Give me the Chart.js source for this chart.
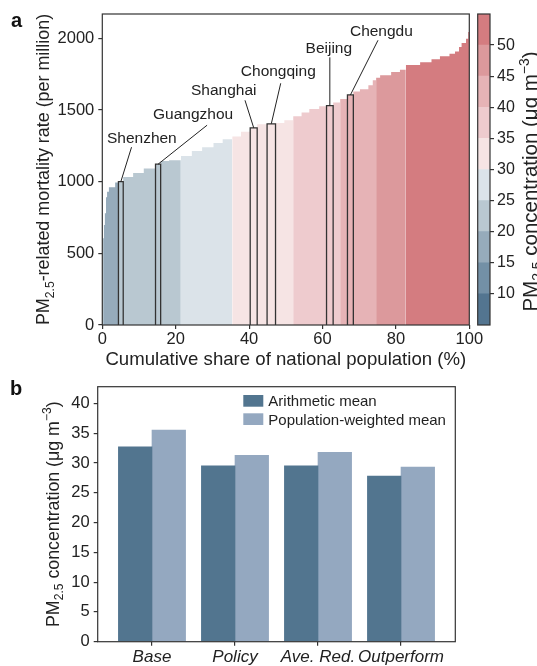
<!DOCTYPE html>
<html>
<head>
<meta charset="utf-8">
<script src="https://cdn.jsdelivr.net/npm/chart.js@4.4.0/dist/chart.umd.min.js"></script>
<style>
  body { margin: 0; width: 537px; height: 666px; overflow: hidden; background: #fff; position: relative; }
  .box { position: absolute; }
</style>
</head>
<body>
<div class="box" style="left:0;top:0;"><canvas id="mortalityChart" width="537" height="370"></canvas></div>
<div class="box" style="left:470px;top:0;"><canvas id="colorbar" width="67" height="345"></canvas></div>
<div class="box" style="left:0;top:370px;"><canvas id="meanChart" width="537" height="310"></canvas></div>
<script>
// ---------- panel a data ----------
// cumulative population share (%) at the right edge of each city, sorted by mortality
const cumShare = [0.4, 0.7, 1.0, 1.3, 1.8, 3.5, 4.4, 5.7, 8.4, 11.3, 14.5, 15.9, 18.2, 21.4,
  24.4, 27.2, 30.3, 32.8, 35.4, 37.8, 40.3, 42.2, 44.9, 47.2, 49.6, 52.0, 54.3, 56.4, 59.1,
  61.1, 62.9, 64.8, 66.8, 68.4, 70.2, 72.5, 73.7, 74.6, 75.7, 78.7, 81.1, 82.7, 86.6, 89.7,
  92.0, 94.6, 96.1, 97.2, 97.9, 99.1, 99.7, 100];
// PM2.5-related mortality rate (per million)
const mortality = [606, 697, 780, 892, 930, 962, 994, 1000, 1033, 1061, 1092, 1122, 1145, 1150,
  1180, 1214, 1240, 1270, 1296, 1315, 1348, 1376, 1401, 1404, 1410, 1429, 1456, 1482, 1508,
  1526, 1530, 1553, 1577, 1605, 1630, 1645, 1672, 1707, 1726, 1742, 1765, 1781, 1815, 1833,
  1854, 1875, 1893, 1909, 1940, 1967, 1998, 2044];
const pm25 = [12.5, 17.5, 17.5, 17.5, 17.5, 17.5, 17.5, 22.5, 22.5, 22.5, 22.5, 22.5, 22.5, 22.5,
  27.5, 27.5, 27.5, 27.5, 27.5, 32.5, 32.5, 32.5, 32.5, 32.5, 32.5, 32.5, 37.5, 37.5, 37.5,
  37.5, 37.5, 37.5, 42.5, 42.5, 42.5, 42.5, 42.5, 42.5, 47.5, 47.5, 47.5, 47.5, 52.5, 52.5,
  52.5, 52.5, 52.5, 52.5, 52.5, 52.5, 52.5, 52.5];

const highlightNames = ['Shenzhen', 'Guangzhou', 'Shanghai', 'Chongqing', 'Beijing', 'Chengdu'];
const highlightIdx = [7, 11, 21, 23, 30, 33];

const shareTicks = [0, 20, 40, 60, 80, 100];
const mortalityTicks = [0, 500, 1000, 1500, 2000];

// colour bar
const pmLevels = [5, 10, 15, 20, 25, 30, 35, 40, 45, 50, 55];
const cbTicks = [10, 15, 20, 25, 30, 35, 40, 45, 50];
const bandColors = ['#537590', '#7390a6', '#96abbb', '#b9c8d1', '#dbe3e9',
  '#f6e4e4', '#eecbce', '#e6b3b6', '#dc999c', '#d47c80'];

// ---------- panel b data ----------
const scenarios = ['Base', 'Policy', 'Ave. Red.', 'Outperform'];
const arithMean = [32.7, 29.5, 29.5, 27.8];
const popWeightedMean = [35.5, 31.3, 31.8, 29.3];
const concTicks = [0, 5, 10, 15, 20, 25, 30, 35, 40];

// ---------- helpers ----------
const FONT = '"Liberation Sans", Arial, sans-serif';
const INK = '#222';
const AXIS = '#333';
Chart.defaults.font.family = FONT;
Chart.defaults.color = INK;

function colorFor(v) {
  let i = Math.floor((v - pmLevels[0]) / 5);
  i = Math.max(0, Math.min(bandColors.length - 1, i));
  return bandColors[i];
}

// draws text with sub/superscripts, centred on (cx, cy)
function drawRich(ctx, parts, cx, cy, size, angle) {
  ctx.save();
  ctx.translate(cx, cy);
  ctx.rotate(angle);
  let total = 0;
  parts.forEach(p => {
    ctx.font = (size * (p.s || 1)) + 'px ' + FONT;
    total += ctx.measureText(p.t).width;
  });
  let x = -total / 2;
  ctx.fillStyle = INK;
  ctx.textBaseline = 'alphabetic';
  ctx.textAlign = 'left';
  parts.forEach(p => {
    ctx.font = (size * (p.s || 1)) + 'px ' + FONT;
    ctx.fillText(p.t, x, size * 0.35 + (p.dy || 0) * size);
    x += ctx.measureText(p.t).width;
  });
  ctx.restore();
}

const concTitle = [{t: 'PM'}, {t: '2.5', s: 0.68, dy: 0.25}, {t: ' concentration (\u03bcg m'},
  {t: '\u22123', s: 0.68, dy: -0.42}, {t: ')'}];
const mortTitle = [{t: 'PM'}, {t: '2.5', s: 0.68, dy: 0.25}, {t: '-related mortality rate (per million)'}];

const framePlugin = {
  id: 'frame',
  afterDraw(chart) {
    const {ctx, chartArea: a} = chart;
    ctx.save();
    ctx.strokeStyle = AXIS;
    ctx.lineWidth = 1.2;
    ctx.strokeRect(a.left, a.top, a.right - a.left, a.bottom - a.top);
    ctx.restore();
  }
};

function axisStyle(extra) {
  return Object.assign({
    grid: {drawOnChartArea: false, drawTicks: true, tickLength: 4, color: AXIS, lineWidth: 1.2, offset: false},
    border: {display: false}
  }, extra);
}

// ---------- panel a ----------
const leftEdges = [0].concat(cumShare.slice(0, -1));
const stepPoints = leftEdges.map((x, i) => ({x: x, y: mortality[i]}));
stepPoints.push({x: 100, y: mortality[mortality.length - 1]});

const boxDatasets = highlightIdx.map(i => ({
  data: [
    {x: leftEdges[i], y: 0}, {x: leftEdges[i], y: mortality[i]},
    {x: cumShare[i], y: mortality[i]}, {x: cumShare[i], y: 0}
  ],
  borderColor: '#333',
  borderWidth: 1.3,
  fill: false,
  pointRadius: 0,
  tension: 0,
  order: 0
}));

// label placement relative to the top centre of each highlighted bar
const labelOffsets = {
  Shenzhen:  {tx: 21,  ty: -44,  lx: 10.7, ly: -34.5},
  Guangzhou: {tx: 35,  ty: -50.5, lx: 49,  ly: -39},
  Shanghai:  {tx: -30, ty: -38.6, lx: -8.7, ly: -27.5},
  Chongqing: {tx: 7,   ty: -53,  lx: 9.4,  ly: -40.5},
  Beijing:   {tx: -1,  ty: -58,  lx: 0,    ly: -48.4},
  Chengdu:   {tx: 31,  ty: -64.2, lx: 27.6, ly: -54.7}
};

const cityLabelPlugin = {
  id: 'cityLabels',
  afterDraw(chart) {
    const {ctx, scales: {x, y}} = chart;
    ctx.save();
    highlightIdx.forEach((i, k) => {
      const name = highlightNames[k];
      const o = labelOffsets[name];
      const cx = x.getPixelForValue((leftEdges[i] + cumShare[i]) / 2);
      const top = y.getPixelForValue(mortality[i]);
      ctx.strokeStyle = INK;
      ctx.lineWidth = 1;
      ctx.beginPath();
      ctx.moveTo(cx + o.lx, top + o.ly);
      ctx.lineTo(cx, top);
      ctx.stroke();
      ctx.font = '15.5px ' + FONT;
      ctx.fillStyle = INK;
      ctx.textAlign = 'center';
      ctx.textBaseline = 'alphabetic';
      ctx.fillText(name, cx + o.tx, top + o.ty + 15.5 * 0.358);
    });
    ctx.restore();
  }
};

const titlesA = {
  id: 'titlesA',
  afterDraw(chart) {
    const {ctx, chartArea: a} = chart;
    drawRich(ctx, mortTitle, 43, (a.top + a.bottom) / 2, 17.9, -Math.PI / 2);
    drawRich(ctx, [{t: 'Cumulative share of national population (%)'}], (a.left + a.right) / 2, 358, 18.6, 0);
    ctx.save();
    ctx.font = 'bold 20px ' + FONT;
    ctx.fillStyle = '#111';
    ctx.fillText('a', 11, 26.7);
    ctx.restore();
  }
};

new Chart(document.getElementById('mortalityChart'), {
  type: 'line',
  data: {
    datasets: [{
      data: stepPoints,
      stepped: true,
      fill: 'origin',
      borderWidth: 0,
      borderColor: 'rgba(0,0,0,0)',
      pointRadius: 0,
      order: 1,
      backgroundColor: colorFor(pm25[0]),
      segment: {
        backgroundColor: c => colorFor(pm25[c.p0DataIndex])
      }
    }].concat(boxDatasets)
  },
  options: {
    responsive: false,
    animation: false,
    devicePixelRatio: 1,
    layout: {padding: {left: 0, right: 67.7, top: 14, bottom: 0}},
    plugins: {legend: {display: false}, tooltip: {enabled: false}},
    scales: {
      x: axisStyle({
        type: 'linear', min: 0, max: 100, offset: false,
        afterFit: s => { s.height = 45; },
        afterBuildTicks: s => { s.ticks = shareTicks.map(v => ({value: v})); },
        ticks: {font: {size: 16.5}, padding: 1, maxRotation: 0, callback: v => String(v)}
      }),
      y: axisStyle({
        type: 'linear', min: 0, max: 2170,
        afterFit: s => { s.width = 102.3; },
        afterBuildTicks: s => { s.ticks = mortalityTicks.map(v => ({value: v})); },
        ticks: {font: {size: 16.5}, padding: 4, callback: v => String(v)}
      })
    }
  },
  plugins: [framePlugin, cityLabelPlugin, titlesA]
});

// ---------- colour bar ----------
const cbTitle = {
  id: 'cbTitle',
  afterDraw(chart) {
    const {ctx, chartArea: a} = chart;
    drawRich(ctx, concTitle, 60, (a.top + a.bottom) / 2 + 12, 20.5, -Math.PI / 2);
  }
};

new Chart(document.getElementById('colorbar'), {
  type: 'bar',
  data: {
    labels: [''],
    datasets: bandColors.map((c, i) => ({
      data: [[pmLevels[i], pmLevels[i + 1]]],
      backgroundColor: c,
      borderWidth: 0,
      barPercentage: 1,
      categoryPercentage: 1,
      grouped: false
    }))
  },
  options: {
    responsive: false,
    animation: false,
    devicePixelRatio: 1,
    layout: {padding: {left: 7.7, right: 0, top: 14, bottom: 20}},
    plugins: {legend: {display: false}, tooltip: {enabled: false}},
    scales: {
      x: {display: false},
      y: axisStyle({
        position: 'right', min: 5, max: 55,
        afterFit: s => { s.width = 47; },
        afterBuildTicks: s => { s.ticks = cbTicks.map(v => ({value: v})); },
        ticks: {font: {size: 16}, padding: 3, callback: v => String(v)}
      })
    }
  },
  plugins: [framePlugin, cbTitle]
});

// ---------- panel b ----------
const legendB = {
  id: 'legendB',
  afterDraw(chart) {
    const {ctx, chartArea: a} = chart;
    drawRich(ctx, concTitle, 52.5, (a.top + a.bottom) / 2, 17.8, -Math.PI / 2);
    ctx.save();
    chart.data.datasets.forEach((d, k) => {
      const y0 = 25 + k * 18.3;
      ctx.fillStyle = d.backgroundColor;
      ctx.fillRect(243.3, y0, 20, 11.7);
      ctx.fillStyle = INK;
      ctx.font = '15px ' + FONT;
      ctx.textAlign = 'left';
      ctx.textBaseline = 'alphabetic';
      ctx.fillText(d.label, 268.3, y0 + 5.85 + 15 * 0.358);
    });
    ctx.font = 'bold 20px ' + FONT;
    ctx.fillStyle = '#111';
    ctx.fillText('b', 10, 25);
    ctx.restore();
  }
};

new Chart(document.getElementById('meanChart'), {
  type: 'bar',
  data: {
    datasets: [
      {label: 'Arithmetic mean', data: scenarios.map((s, i) => ({x: i, y: arithMean[i]})),
       backgroundColor: '#52758f', barThickness: 33.6, borderWidth: 0},
      {label: 'Population-weighted mean', data: scenarios.map((s, i) => ({x: i, y: popWeightedMean[i]})),
       backgroundColor: '#94a8c0', barThickness: 33.6, borderWidth: 0}
    ]
  },
  options: {
    responsive: false,
    animation: false,
    devicePixelRatio: 1,
    layout: {padding: {left: 0, right: 81.7, top: 16.7, bottom: 0}},
    plugins: {legend: {display: false}, tooltip: {enabled: false}},
    scales: {
      x: axisStyle({
        type: 'linear', min: -0.654, max: 3.654, offset: false,
        afterFit: s => { s.height = 38.3; },
        afterBuildTicks: s => { s.ticks = scenarios.map((_, i) => ({value: i})); },
        ticks: {callback: v => scenarios[v], font: {size: 17, style: 'italic'}, padding: 1,
                autoSkip: false, maxRotation: 0}
      }),
      y: axisStyle({
        min: 0, max: 42.8,
        afterFit: s => { s.width = 97.7; },
        afterBuildTicks: s => { s.ticks = concTicks.map(v => ({value: v})); },
        ticks: {font: {size: 16.5}, padding: 4, callback: v => String(v)}
      })
    }
  },
  plugins: [framePlugin, legendB]
});
</script>
</body>
</html>
